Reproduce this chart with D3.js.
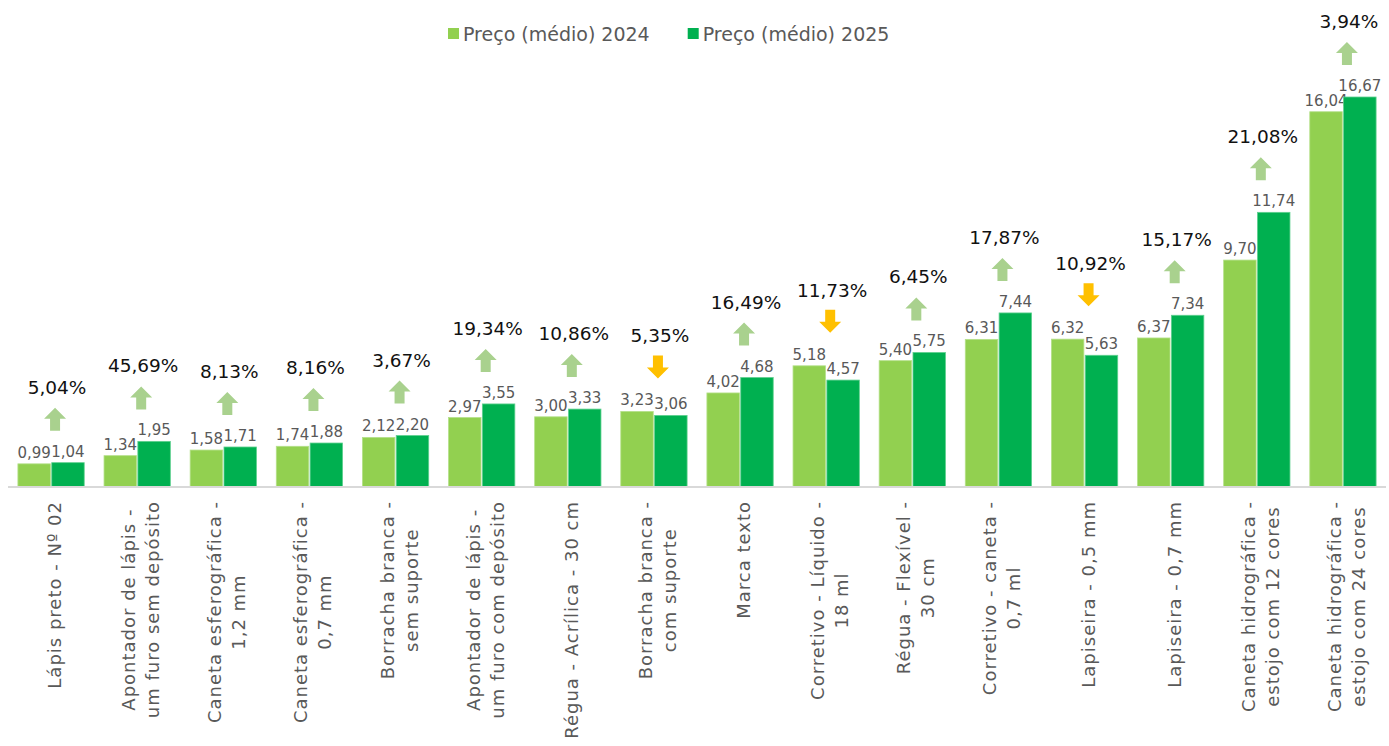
<!DOCTYPE html>
<html>
<head>
<meta charset="utf-8">
<script src="https://cdn.jsdelivr.net/npm/d3@7.9.0/dist/d3.min.js"></script>
<style>
  body { margin: 0; background: #fff; }
  svg { display: block; font-family: 'DejaVu Sans', 'Noto Sans', sans-serif; }
</style>
</head>
<body>
<svg id="chart" width="1389" height="746"></svg>
<script>
const categories = [
  ['Lápis preto - Nº 02'],
  ['Apontador de lápis -', 'um furo sem depósito'],
  ['Caneta esferográfica -', '1,2 mm'],
  ['Caneta esferográfica -', '0,7 mm'],
  ['Borracha branca -', 'sem suporte'],
  ['Apontador de lápis -', 'um furo com depósito'],
  ['Régua - Acrílica - 30 cm'],
  ['Borracha branca -', 'com suporte'],
  ['Marca texto'],
  ['Corretivo - Líquido -', '18 ml'],
  ['Régua - Flexível -', '30 cm'],
  ['Corretivo - caneta -', '0,7 ml'],
  ['Lapiseira - 0,5 mm'],
  ['Lapiseira - 0,7 mm'],
  ['Caneta hidrográfica -', 'estojo com 12 cores'],
  ['Caneta hidrográfica -', 'estojo com 24 cores']
];
const price2024 = [0.99, 1.34, 1.58, 1.74, 2.12, 2.97, 3.00, 3.23, 4.02, 5.18, 5.40, 6.31, 6.32, 6.37, 9.70, 16.04];
const price2025 = [1.04, 1.95, 1.71, 1.88, 2.20, 3.55, 3.33, 3.06, 4.68, 4.57, 5.75, 7.44, 5.63, 7.34, 11.74, 16.67];
const changeLabels = ['5,04%', '45,69%', '8,13%', '8,16%', '3,67%', '19,34%', '10,86%', '5,35%',
  '16,49%', '11,73%', '6,45%', '17,87%', '10,92%', '15,17%', '21,08%', '3,94%'];
const seriesNames = ['Preço (médio) 2024', 'Preço (médio) 2025'];
const colors = ['#92d050', '#00b050'];

const svg = d3.select('#chart');
const baseY = 487;

const x = d3.scaleBand().domain(d3.range(categories.length)).range([8, 1386]).paddingInner(0.23).paddingOuter(0.115);
const xs = d3.scaleBand().domain([0, 1]).range([0, x.bandwidth()]).paddingInner(0.04);
const y = d3.scaleLinear().domain([0, 16.67]).range([baseY, 97]);

const fmt = (v) => v.toFixed(2).replace('.', ',');

// bars
const groups = svg.selectAll('g.grp')
  .data(categories.map((c, i) => i))
  .join('g')
  .attr('class', 'grp')
  .attr('transform', (i) => `translate(${x(i)},0)`);

[price2024, price2025].forEach((vals, s) => {
  groups.append('rect')
    .attr('x', xs(s))
    .attr('width', xs.bandwidth())
    .attr('y', (i) => y(vals[i]))
    .attr('height', (i) => baseY - y(vals[i]))
    .attr('fill', colors[s])
    .attr('stroke', s === 0 ? '#b5e08a' : '#5fd08f')
    .attr('stroke-width', 0.8);

  groups.append('text')
    .attr('x', xs(s) + xs.bandwidth() / 2)
    .attr('y', (i) => y(vals[i]) - 6)
    .attr('text-anchor', 'middle')
    .attr('font-size', 15)
    .attr('fill', '#595959')
    .text((i) => fmt(vals[i]));
});

// axis line
svg.append('line')
  .attr('x1', 8).attr('x2', 1386)
  .attr('y1', baseY).attr('y2', baseY)
  .attr('stroke', '#d9d9d9').attr('stroke-width', 2);

// change arrows + percentages
const upPath = 'M0,-11 L11,0 L5,0 L5,12 L-5,12 L-5,0 L-11,0 Z';
const downPath = 'M0,11 L11,0 L5,0 L5,-12 L-5,-12 L-5,0 L-11,0 Z';
groups.each(function (i) {
  const g = d3.select(this);
  const cx = x.bandwidth() / 2 + 4;
  const top = y(Math.max(price2024[i], price2025[i]));
  const up = price2025[i] >= price2024[i];
  const ay = top - 32 - 12;
  g.append('path')
    .attr('transform', `translate(${cx},${ay})`)
    .attr('d', up ? upPath : downPath)
    .attr('fill', up ? '#a9d18e' : '#ffc000');
  g.append('text')
    .attr('x', cx + 2)
    .attr('y', ay - 25)
    .attr('text-anchor', 'middle')
    .attr('font-size', 18.5)
    .attr('fill', '#111')
    .text(changeLabels[i]);
});

// category labels (rotated, centered lines)
groups.each(function (i) {
  const g = d3.select(this);
  const lines = categories[i];
  const t = g.append('text')
    .attr('font-size', 18)
    .attr('letter-spacing', 1)
    .attr('fill', '#595959')
    .attr('text-anchor', 'middle');
  lines.forEach((ln, k) => {
    t.append('tspan').attr('x', 0).attr('dy', k === 0 ? 0 : 24).text(ln);
  });
  let w = 0;
  t.selectAll('tspan').each(function () { w = Math.max(w, this.getComputedTextLength()); });
  const cx = x.bandwidth() / 2 + 4;
  const blockShift = (lines.length - 1) * 24 / 2;
  // rotated -90: local x runs upward, local y runs rightward
  t.attr('transform', `translate(${cx - blockShift + 6},${501 + w / 2}) rotate(-90)`);
});

// legend
const legend = svg.append('g').attr('transform', 'translate(448,28)');
let lx = 0;
seriesNames.forEach((name, s) => {
  const item = legend.append('g').attr('transform', `translate(${lx},0)`);
  item.append('rect').attr('width', 11).attr('height', 11).attr('fill', colors[s]);
  const t = item.append('text')
    .attr('x', 15).attr('y', 13)
    .attr('font-size', 19)
    .attr('fill', '#595959')
    .text(name);
  lx += 15 + t.node().getComputedTextLength() + 38;
});
</script>
</body>
</html>
